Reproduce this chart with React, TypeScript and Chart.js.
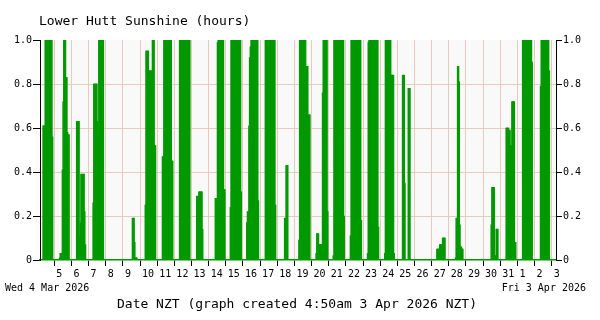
import React, { useEffect, useRef } from "react";
import { Chart, registerables } from "chart.js";

Chart.register(...registerables);

// Axis span: hours counted from 00:00 Wed 4 Mar 2026 (NZT)
const AXIS_START_HOUR = 4;
const AXIS_END_HOUR = 726;
// Each day's list holds the hourly sunshine (hours) for 05:00 .. 22:00
const FIRST_SLOT_HOUR = 5;

const mar04 = [0, 0, 0, 0.61, 0.61, 0.61, 1, 1, 1, 1, 1, 1, 1, 1, 1, 1, 0.56, 0];
const mar05 = [0, 0, 0.01, 0.03, 0.03, 0.03, 0.41, 0.72, 1, 1, 1, 0.83, 0.83, 0.58, 0.57, 0.57, 0, 0];
const mar06 = [0, 0, 0.63, 0.63, 0.63, 0.63, 0.11, 0.17, 0.39, 0.39, 0.39, 0.39, 0.39, 0.22, 0.07, 0, 0, 0];
const mar07 = [0, 0.26, 0.8, 0.8, 0.8, 0.8, 0.8, 0.63, 0.56, 1, 1, 1, 1, 1, 1, 1, 0, 0];
const mar08 = [0, 0, 0, 0, 0, 0, 0, 0, 0, 0, 0, 0, 0, 0, 0, 0, 0, 0];
const mar09 = [0, 0, 0, 0, 0, 0, 0, 0, 0.19, 0.19, 0.19, 0.08, 0.01, 0.01, 0.01, 0, 0, 0];
const mar10 = [0, 0, 0.25, 0.95, 0.95, 0.95, 0.95, 0.86, 0.86, 0.86, 0.86, 0.86, 1, 1, 1, 0.52, 0.52, 0];
const mar11 = [0, 0, 0.47, 0.47, 1, 1, 1, 1, 1, 1, 1, 1, 1, 1, 1, 0.45, 0.45, 0];
const mar12 = [0, 0, 1, 1, 1, 1, 1, 1, 1, 1, 1, 1, 1, 1, 1, 1, 1, 0];
const mar13 = [0, 0, 0.29, 0.29, 0.29, 0.31, 0.31, 0.31, 0.31, 0.31, 0.14, 0, 0, 0, 0, 0, 0, 0];
const mar14 = [0, 0, 0, 0, 0.28, 0.28, 0.28, 0.99, 1, 1, 1, 1, 1, 1, 1, 1, 0.32, 0.32];
const mar15 = [0, 0.24, 1, 1, 1, 1, 1, 1, 1, 1, 1, 1, 1, 1, 1, 1, 0.31, 0];
const mar16 = [0.17, 0.22, 0.22, 0.61, 0.92, 0.97, 1, 1, 1, 1, 1, 1, 1, 1, 1, 1, 0.27, 0];
const mar17 = [0, 0, 1, 1, 1, 1, 1, 1, 1, 1, 1, 1, 1, 1, 1, 1, 0.25, 0];
const mar18 = [0, 0, 0, 0, 0, 0.19, 0.19, 0.43, 0.43, 0.43, 0, 0, 0, 0, 0, 0, 0, 0];
const mar19 = [0, 0.09, 1, 1, 1, 1, 1, 1, 1, 1, 1, 0.88, 0.88, 0.88, 0.66, 0.66, 0.66, 0];
const mar20 = [0, 0.03, 0.12, 0.12, 0.12, 0.07, 0.07, 0.07, 0.07, 0.07, 0.76, 1, 1, 1, 1, 1, 1, 0.22];
const mar21 = [0, 0.02, 1, 1, 1, 1, 1, 1, 1, 1, 1, 1, 1, 1, 1, 1, 0.2, 0];
const mar22 = [0, 0.11, 1, 1, 1, 1, 1, 1, 1, 1, 1, 1, 1, 1, 1, 1, 0.18, 0];
const mar23 = [0, 0.03, 0.99, 1, 1, 1, 1, 1, 1, 1, 1, 1, 1, 1, 1, 1, 0.15, 0];
const mar24 = [0, 0.03, 1, 1, 1, 1, 1, 1, 1, 1, 0.84, 0.84, 0.84, 0.84, 0.03, 0, 0, 0];
const mar25 = [0, 0, 0.84, 0.84, 0.84, 0.35, 0, 0, 0, 0, 0.78, 0.78, 0.78, 0, 0, 0, 0, 0];
const mar26 = [0, 0, 0, 0, 0, 0, 0, 0, 0, 0, 0, 0, 0, 0, 0, 0, 0, 0];
const mar27 = [0, 0, 0.05, 0.05, 0.05, 0.05, 0.07, 0.07, 0.07, 0.07, 0.1, 0.1, 0.1, 0.1, 0, 0, 0, 0];
const mar28 = [0, 0, 0, 0, 0.01, 0.19, 0.19, 0.88, 0.88, 0.81, 0.16, 0.06, 0.06, 0.05, 0.05, 0, 0, 0];
const mar29 = [0, 0, 0, 0, 0, 0, 0, 0, 0, 0, 0, 0, 0, 0, 0, 0, 0, 0];
const mar30 = [0, 0, 0, 0, 0, 0, 0.16, 0.33, 0.33, 0.33, 0.33, 0.02, 0.02, 0.14, 0.14, 0.14, 0, 0];
const mar31 = [0, 0, 0, 0.6, 0.6, 0.6, 0.6, 0.59, 0.59, 0.52, 0.52, 0.72, 0.72, 0.72, 0.72, 0.08, 0.08, 0];
const apr01 = [0, 0, 1, 1, 1, 1, 1, 1, 1, 1, 1, 1, 1, 1, 1, 0.9, 0, 0];
const apr02 = [0, 0, 0, 0.79, 1, 1, 1, 1, 1, 1, 1, 1, 1, 1, 1, 0.86, 0, 0];

const days = [
  mar04, mar05, mar06, mar07, mar08, mar09, mar10, mar11, mar12, mar13,
  mar14, mar15, mar16, mar17, mar18, mar19, mar20, mar21, mar22, mar23,
  mar24, mar25, mar26, mar27, mar28, mar29, mar30, mar31, apr01, apr02,
];

// midnight tick labels (day of month), starting at 00:00 Thu 5 Mar
const tickDays = [
  "5", "6", "7", "8", "9", "10", "11", "12", "13", "14", "15", "16", "17", "18",
  "19", "20", "21", "22", "23", "24", "25", "26", "27", "28", "29", "30", "31",
  "1", "2", "3",
];
const yTicks = [0, 0.2, 0.4, 0.6, 0.8, 1];

const TITLE = "Lower Hutt Sunshine (hours)";
const X_TITLE = "Date NZT (graph created 4:50am 3 Apr 2026 NZT)";
const START_LABEL = "Wed 4 Mar 2026";
const END_LABEL = "Fri 3 Apr 2026";

const GREEN = "#009900";
const PINK = "#e8cabc";
const MONO = "'DejaVu Sans Mono', 'Liberation Mono', monospace";

export default function App() {
  const ref = useRef<HTMLCanvasElement | null>(null);

  useEffect(() => {
    if (!ref.current) return;
    const points: { x: number; y: number }[] = [];
    days.forEach((vals, d) => {
      vals.forEach((v, i) => {
        if (v > 0) points.push({ x: d * 24 + FIRST_SLOT_HOUR + i + 0.5, y: v });
      });
    });
    const tickValues = tickDays.map((_, i) => (i + 1) * 24);

    const textPlugin = {
      id: "textPlugin",
      beforeDraw(chart: any) {
        const { ctx, chartArea } = chart;
        ctx.save();
        ctx.fillStyle = "#ffffff";
        ctx.fillRect(0, 0, chart.width, chart.height);
        ctx.fillStyle = "#f9f9f9";
        ctx.fillRect(chartArea.left, chartArea.top, chartArea.right - chartArea.left, chartArea.bottom - chartArea.top);
        ctx.restore();
      },
      afterDraw(chart: any) {
        const { ctx } = chart;
        ctx.save();
        ctx.fillStyle = "#000";
        ctx.textBaseline = "alphabetic";
        ctx.textAlign = "left";
        ctx.font = `13px ${MONO}`;
        ctx.fillText(TITLE, 39, 25);
        ctx.textAlign = "center";
        ctx.fillText(X_TITLE, 297, 308);
        ctx.font = `10px ${MONO}`;
        ctx.textAlign = "left";
        ctx.fillText(START_LABEL, 5, 291);
        ctx.textAlign = "right";
        ctx.fillText(END_LABEL, 586, 291);
        ctx.restore();
      },
    };

    const font = { family: MONO, size: 10 };
    const gridColor = (c: any) =>
      c.tick && (c.tick.value === 0 || c.tick.value === 1) ? "rgba(0,0,0,0)" : PINK;

    const chart = new Chart(ref.current, {
      type: "bar",
      data: {
        datasets: [
          {
            data: points as any,
            backgroundColor: GREEN,
            borderWidth: 0,
            barThickness: 1.1,
            grouped: false,
          } as any,
        ],
      },
      options: {
        animation: false,
        responsive: false,
        devicePixelRatio: 1,
        layout: { padding: { top: 40, left: 0, right: 0, bottom: 0 } },
        plugins: { legend: { display: false }, tooltip: { enabled: false }, title: { display: false } },
        scales: {
          x: {
            type: "linear",
            offset: false,
            min: AXIS_START_HOUR,
            max: AXIS_END_HOUR,
            afterBuildTicks: (s: any) => {
              s.ticks = tickValues.map((v) => ({ value: v }));
            },
            afterFit: (s: any) => {
              s.height = 60;
            },
            ticks: {
              callback: (_v: any, i: number) => tickDays[i],
              autoSkip: false,
              maxRotation: 0,
              minRotation: 0,
              align: "start",
              labelOffset: 2,
              padding: 2,
              color: "#000",
              font,
            },
            grid: { offset: false, color: PINK, tickColor: "#000", tickLength: 6, lineWidth: 1 },
            border: { color: GREEN, width: 1.5 },
          },
          y: {
            type: "linear",
            position: "left",
            min: 0,
            max: 1,
            afterBuildTicks: (s: any) => {
              s.ticks = yTicks.map((v) => ({ value: v }));
            },
            afterFit: (s: any) => {
              s.width = 40;
            },
            ticks: { color: "#000", font, padding: 1 },
            grid: { color: gridColor, tickColor: "#000", tickLength: 7 },
            border: { color: "#000", width: 1 },
          },
          y2: {
            type: "linear",
            position: "right",
            min: 0,
            max: 1,
            afterBuildTicks: (s: any) => {
              s.ticks = yTicks.map((v) => ({ value: v }));
            },
            afterFit: (s: any) => {
              s.width = 44;
            },
            ticks: { color: "#000", font, padding: 1 },
            grid: { drawOnChartArea: false, tickColor: "#000", tickLength: 6 },
            border: { color: "#000", width: 1 },
          },
        },
      } as any,
      plugins: [textPlugin],
    });
    return () => chart.destroy();
  }, []);

  return (
    <div style={{ position: "absolute", left: 0, top: 0, width: 600, height: 320, background: "#fff" }}>
      <canvas ref={ref} width={600} height={320} style={{ display: "block" }} />
    </div>
  );
}
